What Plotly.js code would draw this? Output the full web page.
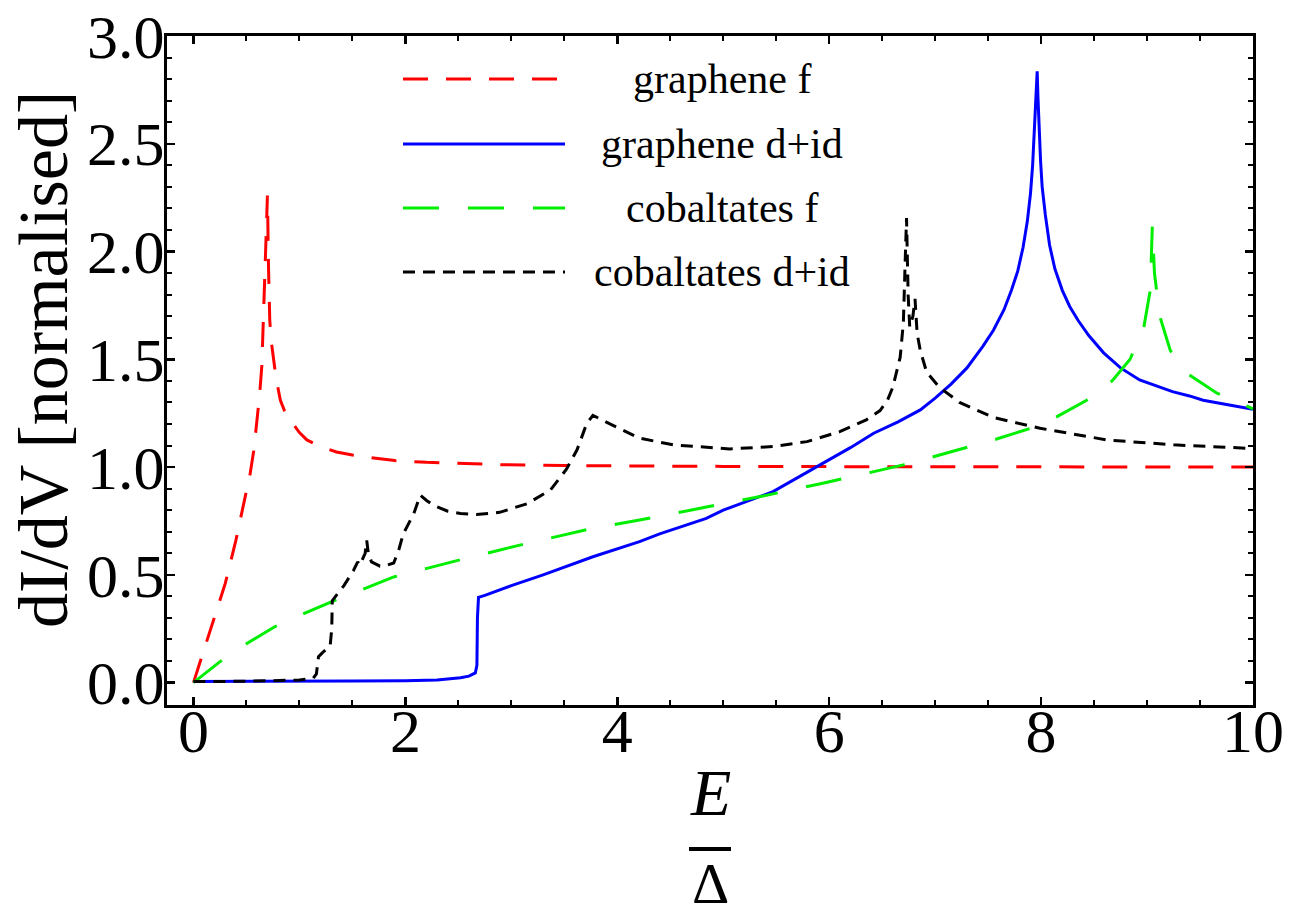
<!DOCTYPE html>
<html>
<head>
<meta charset="utf-8">
<script src="https://cdn.plot.ly/plotly-3.0.1.min.js"></script>
<style>html,body{margin:0;padding:0;background:#fff;}#chart{width:1303px;height:919px;}</style>
</head>
<body>
<div id="chart"></div>
<script>
// ---- data ----
const seriesNames = ["graphene f", "graphene d+id", "cobaltates f", "cobaltates d+id"];

const grapheneF_x = [0, 0.1, 0.2, 0.3, 0.4, 0.5, 0.535, 0.57, 0.6, 0.625, 0.645, 0.66, 0.676, 0.69, 0.698, 0.708, 0.72, 0.735, 0.755, 0.78, 0.82, 0.86, 0.91, 0.96, 1.0, 1.07, 1.2, 1.35, 1.5, 1.7, 1.9, 2.2, 2.5, 2.9, 3.5, 4.2, 5, 6, 7, 8, 9, 10];
const grapheneF_y = [0, 0.15, 0.30, 0.46, 0.66, 0.88, 0.97, 1.08, 1.22, 1.34, 1.47, 1.68, 1.95, 2.18, 2.26, 1.93, 1.68, 1.58, 1.50, 1.41, 1.31, 1.26, 1.22, 1.185, 1.16, 1.126, 1.095, 1.07, 1.056, 1.042, 1.03, 1.022, 1.016, 1.011, 1.007, 1.004, 1.003, 1.002, 1.001, 1.001, 1.0, 1.0];

const grapheneD_x = [0, 0.5, 1, 1.5, 2, 2.3, 2.52, 2.6, 2.66, 2.675, 2.68, 2.69, 2.75, 2.83, 3.0, 3.3, 3.77, 4.21, 4.4, 4.84, 5.0, 5.47, 5.88, 6.0, 6.2, 6.42, 6.65, 6.86, 7.0, 7.15, 7.3, 7.45, 7.55, 7.65, 7.72, 7.78, 7.83, 7.87, 7.90, 7.92, 7.94, 7.955, 7.963, 7.97, 7.98, 7.995, 8.01, 8.04, 8.08, 8.13, 8.2, 8.27, 8.35, 8.45, 8.59, 8.75, 8.93, 9.1, 9.24, 9.4, 9.53, 9.75, 9.97, 10];
const grapheneD_y = [0.005, 0.005, 0.006, 0.007, 0.009, 0.012, 0.022, 0.03, 0.045, 0.08, 0.3, 0.395, 0.405, 0.42, 0.45, 0.50, 0.584, 0.654, 0.69, 0.762, 0.80, 0.886, 0.999, 1.034, 1.09, 1.157, 1.21, 1.265, 1.32, 1.385, 1.46, 1.56, 1.635, 1.73, 1.82, 1.91, 2.02, 2.14, 2.27, 2.40, 2.58, 2.75, 2.836, 2.72, 2.58, 2.42, 2.30, 2.17, 2.03, 1.92, 1.82, 1.745, 1.68, 1.61, 1.53, 1.46, 1.404, 1.375, 1.35, 1.33, 1.31, 1.29, 1.27, 1.268];

const cobaltF_x = [0, 0.25, 0.5, 0.77, 1.04, 1.34, 1.89, 2.52, 3.15, 3.77, 4.21, 4.75, 5.35, 5.94, 6.54, 6.7, 7.0, 7.3, 7.58, 7.9, 8.15, 8.43, 8.67, 8.84, 8.97, 9.03, 9.05, 9.07, 9.12, 9.22, 9.39, 9.66, 9.94, 10];
const cobaltF_y = [0, 0.097, 0.18, 0.26, 0.32, 0.383, 0.49, 0.57, 0.646, 0.716, 0.754, 0.804, 0.863, 0.925, 0.99, 1.01, 1.05, 1.09, 1.13, 1.18, 1.234, 1.31, 1.40, 1.50, 1.65, 1.82, 2.12, 1.90, 1.70, 1.54, 1.43, 1.343, 1.28, 1.27];

const cobaltD_x = [0, 0.5, 1.0, 1.13, 1.16, 1.18, 1.22, 1.26, 1.29, 1.305, 1.31, 1.35, 1.42, 1.51, 1.55, 1.57, 1.60, 1.62, 1.635, 1.65, 1.68, 1.76, 1.83, 1.89, 1.94, 1.98, 2.08, 2.14, 2.2, 2.26, 2.4, 2.52, 2.67, 2.89, 3.15, 3.37, 3.52, 3.62, 3.71, 3.77, 3.83, 3.93, 4.21, 4.53, 5.06, 5.47, 5.79, 6.10, 6.35, 6.48, 6.55, 6.60, 6.67, 6.70, 6.72, 6.73, 6.745, 6.76, 6.79, 6.81, 6.83, 6.86, 6.92, 7.04, 7.23, 7.55, 7.99, 8.62, 9.25, 9.94, 10];
const cobaltD_y = [0.005, 0.006, 0.012, 0.02, 0.04, 0.12, 0.14, 0.155, 0.17, 0.25, 0.38, 0.406, 0.45, 0.52, 0.56, 0.545, 0.58, 0.60, 0.66, 0.60, 0.56, 0.54, 0.545, 0.555, 0.62, 0.69, 0.785, 0.87, 0.845, 0.824, 0.795, 0.785, 0.78, 0.79, 0.83, 0.894, 0.99, 1.08, 1.20, 1.24, 1.225, 1.20, 1.134, 1.103, 1.084, 1.095, 1.118, 1.164, 1.219, 1.262, 1.31, 1.37, 1.51, 1.67, 2.0, 2.155, 1.8, 1.65, 1.70, 1.78, 1.62, 1.54, 1.44, 1.37, 1.30, 1.23, 1.18, 1.126, 1.103, 1.087, 1.086];

const xTicks = [0, 2, 4, 6, 8, 10];
const xTickLabels = ["0", "2", "4", "6", "8", "10"];
const yTicks = [0, 0.5, 1.0, 1.5, 2.0, 2.5, 3.0];
const yTickLabels = ["0.0", "0.5", "1.0", "1.5", "2.0", "2.5", "3.0"];

// ---- styles ----
const colors = ["#ff0000", "#0000ff", "#00ee00", "#000000"];
const dashes = ["25px,18px", "solid", "36px,29px", "12px,8px"];
const FONT = "'Liberation Serif', 'Times New Roman', Times, serif";

const xs = [grapheneF_x, grapheneD_x, cobaltF_x, cobaltD_x];
const ys = [grapheneF_y, grapheneD_y, cobaltF_y, cobaltD_y];

const traces = xs.map((x, i) => ({
  type: "scatter", mode: "lines", x: x, y: ys[i], name: seriesNames[i],
  line: {color: colors[i], width: 3, dash: dashes[i]},
  showlegend: false, hoverinfo: "skip"
}));

// plot area in pixels
const L = 167, R = 1253, T = 36, B = 705;
const W = 1303, H = 919;
const px2x = p => (p - L) / (R - L);
const px2y = p => (B - p) / (B - T);

const shapes = [];
const annotations = [];
const legendRows = [79, 144, 208, 272];
seriesNames.forEach((n, i) => {
  shapes.push({type: "line", xref: "paper", yref: "paper",
    x0: px2x(403), x1: px2x(565), y0: px2y(legendRows[i]), y1: px2y(legendRows[i]),
    line: {color: colors[i], width: 3, dash: dashes[i]}});
  annotations.push({xref: "paper", yref: "paper", x: px2x(722), y: px2y(legendRows[i]),
    xanchor: "center", yanchor: "middle", showarrow: false, text: n,
    font: {family: FONT, size: 42, color: "#000"}});
});

// y-axis title
annotations.push({xref: "paper", yref: "paper", x: px2x(44), y: px2y(360),
  xanchor: "center", yanchor: "middle", showarrow: false, textangle: -90,
  text: "dI/dV [normalised]", font: {family: FONT, size: 70, color: "#000"}});
// x-axis title as a fraction E / Δ
annotations.push({xref: "paper", yref: "paper", x: px2x(710), y: px2y(792),
  xanchor: "center", yanchor: "middle", showarrow: false,
  text: "<i>E</i>", font: {family: FONT, size: 66, color: "#000"}});
annotations.push({xref: "paper", yref: "paper", x: px2x(710), y: px2y(918),
  xanchor: "center", yanchor: "bottom", showarrow: false,
  text: "Δ", font: {family: FONT, size: 58, color: "#000"}});
shapes.push({type: "line", xref: "paper", yref: "paper",
  x0: px2x(689), x1: px2x(731), y0: px2y(849), y1: px2y(849),
  line: {color: "#000", width: 4}});

const layout = {
  width: W, height: H,
  margin: {l: L, r: W - R, t: T, b: H - B},
  paper_bgcolor: "#fff", plot_bgcolor: "#fff",
  showlegend: false,
  font: {family: FONT, color: "#000"},
  xaxis: {
    range: [-0.25, 10], tickvals: xTicks, ticktext: xTickLabels,
    showgrid: false, zeroline: false,
    showline: true, linecolor: "#000", linewidth: 3, mirror: "allticks",
    ticks: "inside", ticklen: 8, tickwidth: 2.5, tickcolor: "#000",
    ticklabelstandoff: -30,
    minor: {dtick: 0.5, tick0: 0, ticks: "inside", ticklen: 5, tickwidth: 2, tickcolor: "#000", showgrid: false},
    tickfont: {family: FONT, size: 62, color: "#000"}
  },
  yaxis: {
    range: [-0.104, 3.0], tickvals: yTicks, ticktext: yTickLabels,
    showgrid: false, zeroline: false,
    showline: true, linecolor: "#000", linewidth: 3, mirror: "allticks",
    ticks: "inside", ticklen: 8, tickwidth: 2.5, tickcolor: "#000",
    ticklabelstandoff: -13,
    minor: {dtick: 0.1, tick0: 0, ticks: "inside", ticklen: 5, tickwidth: 2, tickcolor: "#000", showgrid: false},
    tickfont: {family: FONT, size: 62, color: "#000"}
  },
  shapes: shapes,
  annotations: annotations
};

Plotly.newPlot("chart", traces, layout, {staticPlot: true, displayModeBar: false});
</script>
</body>
</html>
